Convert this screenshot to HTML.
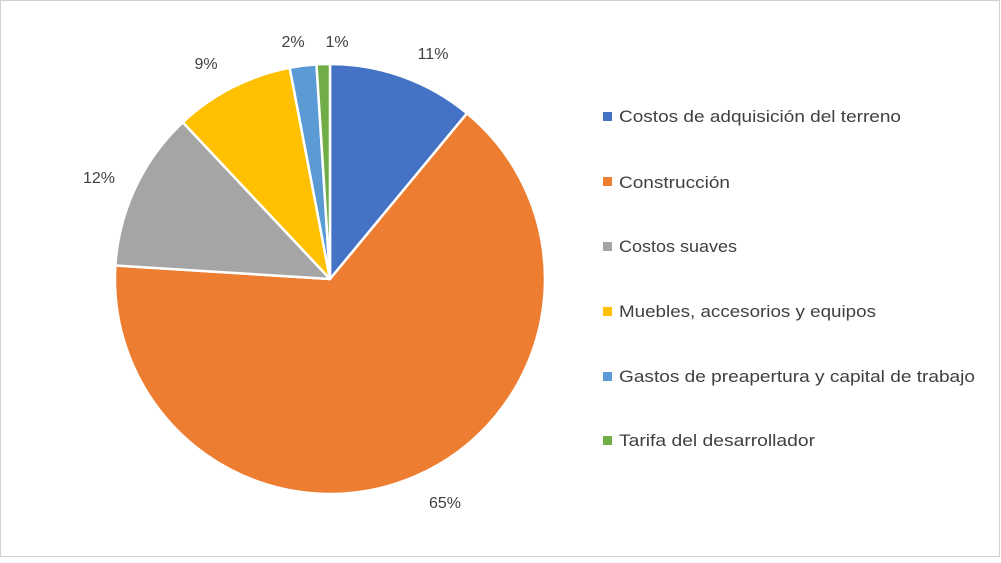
<!DOCTYPE html>
<html><head><meta charset="utf-8"><style>
body{margin:0;background:#fff}
svg text{font-family:"Liberation Sans",sans-serif;fill:#404040}
</style></head><body>
<svg width="1001" height="558" viewBox="0 0 1001 558" xmlns="http://www.w3.org/2000/svg">
<rect x="0.5" y="0.5" width="999" height="556" fill="#fff" stroke="#d0d0d0"/>
<g stroke="#fff" stroke-width="2.5" stroke-linejoin="round">
<path d="M330,279 L330,64 A215,215 0 0 1 467,113.3 Z" fill="#4472c4"/>
<path d="M330,279 L467,113.3 A215,215 0 1 1 115.4,265.5 Z" fill="#ed7d31"/>
<path d="M330,279 L115.4,265.5 A215,215 0 0 1 182.8,122.3 Z" fill="#a5a5a5"/>
<path d="M330,279 L182.8,122.3 A215,215 0 0 1 289.7,67.8 Z" fill="#ffc000"/>
<path d="M330,279 L289.7,67.8 A215,215 0 0 1 316.5,64.4 Z" fill="#5b9bd5"/>
<path d="M330,279 L316.5,64.4 A215,215 0 0 1 330,64 Z" fill="#70ad47"/>
</g>
<g font-size="16">
<text x="433" y="59" text-anchor="middle">11%</text>
<text x="445" y="508" text-anchor="middle">65%</text>
<text x="99" y="183" text-anchor="middle">12%</text>
<text x="206" y="69" text-anchor="middle">9%</text>
<text x="293" y="47" text-anchor="middle">2%</text>
<text x="337" y="47" text-anchor="middle">1%</text>
</g>
<g font-size="17">
<rect x="603" y="112" width="9" height="9" fill="#4472c4"/><text x="619" y="122" textLength="282" lengthAdjust="spacingAndGlyphs">Costos de adquisición del terreno</text>
<rect x="603" y="177" width="9" height="9" fill="#ed7d31"/><text x="619" y="188" textLength="111" lengthAdjust="spacingAndGlyphs">Construcción</text>
<rect x="603" y="242" width="9" height="9" fill="#a5a5a5"/><text x="619" y="252" textLength="118" lengthAdjust="spacingAndGlyphs">Costos suaves</text>
<rect x="603" y="307" width="9" height="9" fill="#ffc000"/><text x="619" y="317" textLength="257" lengthAdjust="spacingAndGlyphs">Muebles, accesorios y equipos</text>
<rect x="603" y="372" width="9" height="9" fill="#5b9bd5"/><text x="619" y="382" textLength="356" lengthAdjust="spacingAndGlyphs">Gastos de preapertura y capital de trabajo</text>
<rect x="603" y="436" width="9" height="9" fill="#70ad47"/><text x="619" y="446" textLength="196" lengthAdjust="spacingAndGlyphs">Tarifa del desarrollador</text>
</g>
</svg>
</body></html>
